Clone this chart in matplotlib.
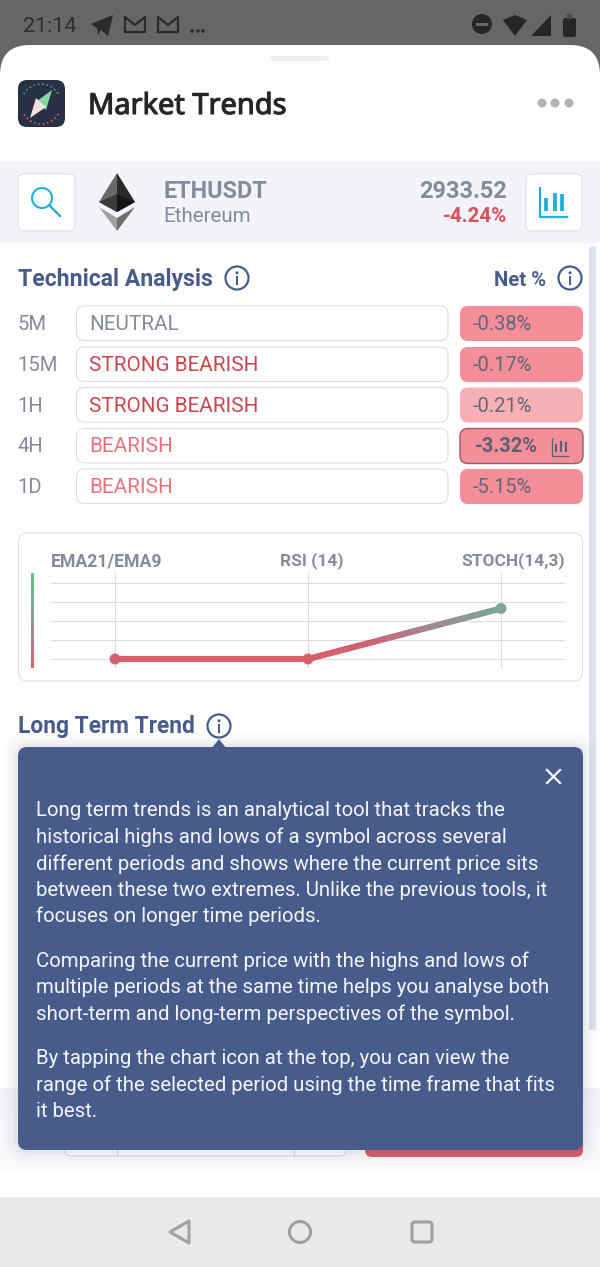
#!/usr/bin/env python3
import numpy as np
import matplotlib
matplotlib.use("Agg")
import matplotlib.pyplot as plt
import matplotlib.patheffects as pe
from matplotlib.patches import FancyBboxPatch, Circle, Polygon, Rectangle, Arc
from matplotlib.collections import LineCollection
from matplotlib.colors import LinearSegmentedColormap

plt.rcParams['font.family'] = ['Roboto', 'DejaVu Sans']

# data
periods = ['5M', '15M', '1H', '4H', '1D']
ratings = ['NEUTRAL', 'STRONG BEARISH', 'STRONG BEARISH', 'BEARISH', 'BEARISH']
net_pct = ['-0.38%', '-0.17%', '-0.21%', '-3.32%', '-5.15%']
indicators = ['EMA21/EMA9', 'RSI (14)', 'STOCH(14,3)']
indicator_values = [0, 0, 2.66]
grid_levels = [0, 1, 2, 3, 4]
paragraphs = [
    ['Long term trends is an analytical tool that tracks the',
     'historical highs and lows of a symbol across several',
     'different periods and shows where the current price sits',
     'between these two extremes. Unlike the previous tools, it',
     'focuses on longer time periods.'],
    ['Comparing the current price with the highs and lows of',
     'multiple periods at the same time helps you analyse both',
     'short-term and long-term perspectives of the symbol.'],
    ['By tapping the chart icon at the top, you can view the',
     'range of the selected period using the time frame that fits',
     'it best.'],
]
rating_colors = {'NEUTRAL': '#858b9c', 'STRONG BEARISH': '#c9464f', 'BEARISH': '#e8727e'}
net_colors = ['#f48e98', '#f48e98', '#f7b1b6', '#f48e98', '#f48e98']

NAVY = '#485c8c'
BLUE = '#1fb0d8'
GREY = '#858b9c'
PX = 0.72  # px to pt at dpi 100

fig = plt.figure(figsize=(6, 12.67), dpi=100)
ax = fig.add_axes([0, 0, 1, 1])
ax.set_xlim(0, 600)
ax.set_ylim(1267, 0)
ax.axis('off')


def box(x0, y0, x1, y1, r, fc='white', ec='none', lw=0.75, z=2, alpha=None):
    p = FancyBboxPatch((x0, y0), x1 - x0, y1 - y0, boxstyle=f'round,pad=0,rounding_size={r}',
                       fc=fc, ec=ec, lw=lw, zorder=z, alpha=alpha)
    ax.add_patch(p)
    return p


def txt(x, y, s, size, color, weight='normal', ha='left', family=None, z=5):
    kw = {'family': family} if family else {}
    return ax.text(x, y, s, fontsize=size * PX, color=color, fontweight=weight, ha=ha,
                   va='center_baseline', zorder=z, **kw)


def info(x, y, r=11.5, z=5):
    ax.add_patch(Circle((x, y), r, fc='white', ec=NAVY, lw=1.6, zorder=z))
    ax.add_patch(Circle((x, y - 5.2), 1.5, fc=NAVY, ec='none', zorder=z + 1))
    ax.add_patch(Rectangle((x - 1.2, y - 2), 2.4, 8.5, fc=NAVY, ec='none', zorder=z + 1))


def bars_icon(x, y, color, w=1.0, lw=1.6):
    # axis L and three little bars
    ax.plot([x, x, x + 28 * w], [y, y + 30 * w, y + 30 * w], color=color, lw=lw, zorder=6,
            solid_capstyle='butt')
    for dx, top, bot in [(6, 11, 24), (15, 6, 24), (22, 7, 24)]:
        ax.plot([x + dx * w] * 2, [y + top * w, y + bot * w], color=color, lw=lw * 1.7, zorder=6,
                solid_capstyle='butt')


# backgrounds
ax.add_patch(Rectangle((0, 0), 600, 80, fc='#666666', ec='none', zorder=0))
box(0, 45, 600, 300, 30, fc='white', z=1)
ax.add_patch(Rectangle((0, 90), 600, 1107, fc='white', ec='none', zorder=1))
ax.add_patch(Rectangle((0, 161), 600, 82, fc='#f2f4f9', ec='none', zorder=1))
ax.add_patch(Rectangle((0, 1197), 600, 70, fc='#e9e9e9', ec='none', zorder=1))
grad = LinearSegmentedColormap.from_list('b', ['#fbfbfd', '#f3f4f8'])
ax.imshow(np.linspace(0, 1, 40)[:, None], extent=(0, 600, 1173, 1088), cmap=grad, aspect='auto', zorder=1.2,
          origin='lower')
ax.set_xlim(0, 600)
ax.set_ylim(1267, 0)

# status bar
txt(23, 24, '21:14', 21.5, '#2e2e2e')
ax.add_patch(Polygon([[91, 24], [113, 15], [108, 36], [101, 30], [98, 35], [97, 28]], fc='#2a2a2a', zorder=5))
for mx in (125, 158):
    ax.plot([mx, mx, mx + 10, mx + 20, mx + 20, mx], [32, 17, 25, 17, 32, 32], color='#2a2a2a', lw=1.6, zorder=5)
for dx in (192, 198, 203):
    ax.add_patch(Circle((dx, 31), 1.8, fc='#2a2a2a', zorder=5))
ax.add_patch(Circle((482, 24), 10, fc='#262626', zorder=5))
ax.add_patch(Rectangle((476, 23), 12, 2.6, fc='#666666', zorder=6))
ax.add_patch(Polygon([[503, 20], [515, 15], [527, 20], [515, 36]], fc='#262626', zorder=5))
ax.add_patch(Polygon([[531, 36], [551, 15], [551, 36]], fc='#262626', zorder=5))
box(563, 18, 576, 37, 2, fc='#262626', z=5)
ax.add_patch(Rectangle((567, 14), 5, 5, fc='#4a4a4a', zorder=5))

# sheet handle and header
box(270, 56, 329, 61, 2.5, fc='#eeeeee')
box(18, 80, 65, 127, 9, fc='#2a3045')
ax.add_patch(Arc((41, 104), 40, 40, theta1=210, theta2=330, ec='#3fae7c', lw=1.2, ls=':', zorder=3))
ax.add_patch(Arc((41, 104), 40, 40, theta1=30, theta2=150, ec='#d9606c', lw=1.2, ls=':', zorder=3))
ax.add_patch(Polygon([[52, 90], [46, 110], [37, 101]], fc='#7fd9a3', zorder=4))
ax.add_patch(Polygon([[30, 118], [36, 98], [46, 107]], fc='#f7dfdf', zorder=4))
title = txt(88, 103, 'Market Trends', 29, '#262626', weight='medium', family=['Noto Sans', 'DejaVu Sans'])
title.set_path_effects([pe.withStroke(linewidth=0.8, foreground='#262626')])
for dx in (542, 555, 569):
    ax.add_patch(Circle((dx, 103), 4.5, fc='#b3b3b3', zorder=3))

# symbol band
box(18, 174, 75, 231, 6, fc='white', ec='#d9dde8')
ax.add_patch(Circle((42, 198), 10, fc='none', ec=BLUE, lw=1.5, zorder=4))
ax.plot([50, 60], [206, 216], color=BLUE, lw=1.7, zorder=4)
box(526, 174, 582, 231, 6, fc='white', ec='#d9dde8')
bars_icon(540, 187, BLUE)
ax.add_patch(Polygon([[117, 173], [99, 202], [117, 212]], fc='#6a6a6a', zorder=3))
ax.add_patch(Polygon([[117, 173], [135, 202], [117, 212]], fc='#2a2a2a', zorder=3))
ax.add_patch(Polygon([[99, 202], [117, 194], [117, 212]], fc='#3a3a3a', zorder=4))
ax.add_patch(Polygon([[135, 202], [117, 194], [117, 212]], fc='#141414', zorder=4))
ax.add_patch(Polygon([[99, 207], [117, 218], [117, 231]], fc='#a0a0a0', zorder=3))
ax.add_patch(Polygon([[135, 207], [117, 218], [117, 231]], fc='#6e6e6e', zorder=3))
txt(163.5, 189, 'ETHUSDT', 23.4, GREY, weight='bold')
txt(163.5, 215, 'Ethereum', 20.5, GREY)
txt(507, 189, '2933.52', 23.5, GREY, weight='bold', ha='right')
txt(507, 215, '-4.24%', 20.5, '#d9505c', weight='bold', ha='right')

# scrollbar
ax.add_patch(Rectangle((589, 250), 7, 780, fc='#dde2ee', zorder=1.5))
box(589, 246, 596, 262, 3, fc='#dde2ee', z=1.5)

# technical analysis
txt(18, 277, 'Technical Analysis', 23, NAVY, weight='bold')
info(237, 278)
txt(494, 278, 'Net %', 20.3, NAVY, weight='bold')
info(570, 278)

row_tops = [306, 347, 387.5, 428.5, 469]
for i, (p, r, n) in enumerate(zip(periods, ratings, net_pct)):
    top = row_tops[i]
    cy = top + 16.5
    txt(17.5, cy, p, 20.3, GREY)
    box(76.5, top, 448, top + 34.5, 8, fc='white', ec='#dbdce2')
    txt(89, cy, r, 20.6, rating_colors[r])
    hot = n == '-3.32%'
    box(460, top, 583, top + 35, 8, fc=net_colors[i], ec='#9c5a68' if hot else 'none', lw=1)
    if hot:
        txt(475, cy, n, 20, '#5a5f72', weight='bold')
        bars_icon(552, top + 9, '#5a5f72', w=0.62, lw=0.9)
    else:
        txt(473, cy, n, 20.2, '#62677a')

# indicator card
box(18.5, 533, 582.5, 681, 9, fc='white', ec='#dcdee4')
chart = fig.add_axes([51 / 600, 1 - 668 / 1267, 514 / 600, 95 / 1267], zorder=3)
chart.patch.set_alpha(0)
# axes limits so that the levels land on the card gridlines
chart.set_xlim(-64 / 193, 2 + 64 / 193)
chart.set_ylim(-9 / 19, 86 / 19)
for s in chart.spines.values():
    s.set_visible(False)
chart.set_xticks(range(len(indicators)))
chart.set_xticklabels([])
chart.set_yticks(grid_levels)
chart.set_yticklabels([])
chart.tick_params(length=0)
chart.grid(True, color='#dcdcdf', lw=0.8)
chart.set_axisbelow(True)

xs = np.arange(len(indicators))
vals = np.array(indicator_values, dtype=float)
line_cmap = LinearSegmentedColormap.from_list('rg', ['#d95f6b', '#cf6471', '#a08896', '#7ea596'])
# split the last leg only to colour it
t = np.linspace(0, 1, 60)
seg_x = np.concatenate([[xs[0]], xs[1] + t * (xs[2] - xs[1])])
seg_y = np.concatenate([[vals[0]], vals[1] + t * (vals[2] - vals[1])])
pts = np.column_stack([seg_x, seg_y])
segs = np.stack([pts[:-1], pts[1:]], axis=1)
lc = LineCollection(segs, colors=line_cmap(seg_y[1:] / vals.max()), lw=4.4, capstyle='round', zorder=4)
chart.add_collection(lc)
chart.scatter(xs, vals, s=62, c=[line_cmap(v / vals.max()) for v in vals], linewidths=0, zorder=5, clip_on=False)
txt(51, 559, indicators[0], 17.6, GREY, weight='bold')
txt(311.5, 559, indicators[1], 17.4, GREY, weight='bold', ha='center')
txt(565, 559, indicators[2], 17.4, GREY, weight='bold', ha='right')
bar_cmap = LinearSegmentedColormap.from_list('bar', ['#5cc97f', '#8f98a0', '#e0606e'])
ax.imshow(np.linspace(0, 1, 60)[:, None], extent=(30.5, 33, 668, 573), cmap=bar_cmap, aspect='auto', zorder=4, origin='upper')
ax.set_xlim(0, 600)
ax.set_ylim(1267, 0)

# long term trend + tooltip
txt(18, 724, 'Long Term Trend', 22.7, NAVY, weight='bold')
info(219, 726)

# stuff behind the tooltip
box(65, 1100, 346, 1156, 6, fc='white', ec='#d6d9e4', z=2)
ax.plot([117, 117], [1100, 1156], color='#d6d9e4', lw=0.8, zorder=2.1)
ax.plot([294, 294], [1100, 1156], color='#d6d9e4', lw=0.8, zorder=2.1)
box(365, 1100, 583, 1157, 7, fc='#d95f6b', z=2)

for pad, a in [(14, 0.015), (10, 0.02), (6, 0.025), (3, 0.03)]:
    box(18 - pad, 747 - pad, 583 + pad, 1150 + pad, 10 + pad, fc='#2a3050', z=6, alpha=a)
box(18, 747, 583, 1150, 9, fc=NAVY, z=7)
ax.add_patch(Polygon([[212, 748], [219, 739], [226, 748]], fc=NAVY, ec='none', zorder=7))
ax.plot([547, 560], [770, 783], color='white', lw=1.6, zorder=8)
ax.plot([547, 560], [783, 770], color='white', lw=1.6, zorder=8)

para_y = [809, 959, 1057]
for lines, y0 in zip(paragraphs, para_y):
    for j, line in enumerate(lines):
        txt(35.5, y0 + j * 26.4, line, 20.4, '#f3f5fa', z=8)

# nav bar
ax.add_patch(Polygon([[170, 1232], [189, 1221], [189, 1243]], fc='none', ec='#a0a0a0', lw=2.2, joinstyle='round', zorder=3))
ax.add_patch(Circle((300, 1232), 10.5, fc='none', ec='#a0a0a0', lw=2.2, zorder=3))
box(412, 1222, 432, 1242, 3, fc='none', ec='#a0a0a0', lw=2.2, z=3)

fig.savefig('out.png', dpi=100)
